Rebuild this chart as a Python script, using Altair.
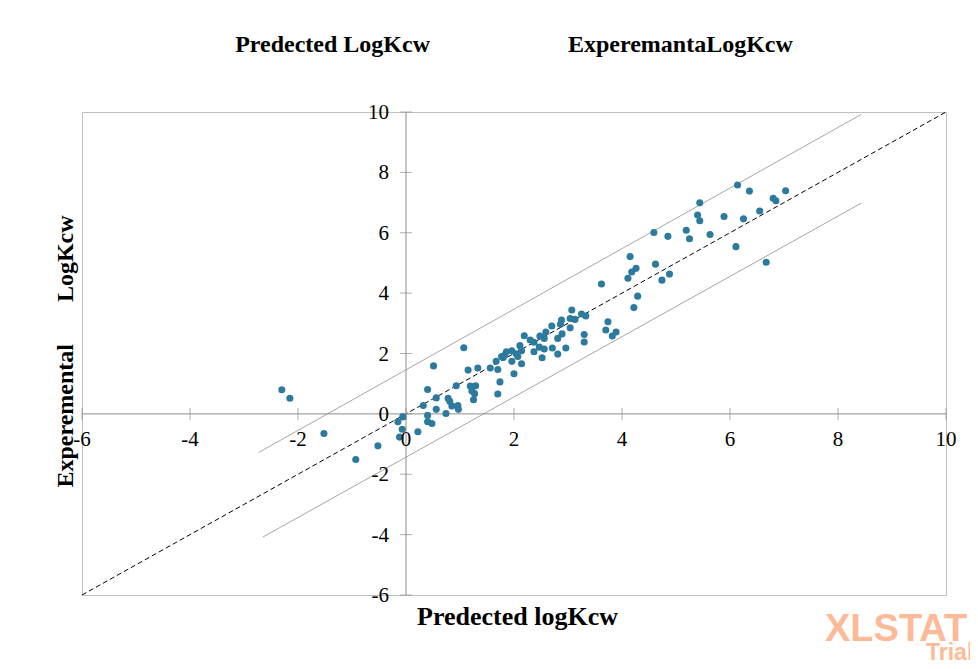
import altair as alt
import pandas as pd

# ---------------- data ----------------
pred = [6.14, 6.36, 6.80, 6.85, 6.55, 6.25, 5.89, 5.44, 5.40, 5.44,
        5.19, 5.25, 5.63, 6.11, 6.67, 4.59, 4.85, 4.15, 4.62, 4.88,
        4.74, 4.26, 4.18, 4.11, 4.29, 4.22, 3.62, 3.25, 3.33, 7.03,
        3.74, 3.70, 3.89, 3.82, 3.30, 3.30, 3.07, 3.04, 3.13, 2.88,
        2.86, 3.04, 2.89, 2.81, 2.70, 2.81, 2.96, 2.71, 2.59, 2.48,
        2.56, 2.47, 2.56, 2.52, 2.37, 2.30, 2.37, 2.19, 2.14, 2.11,
        2.14, 2.04, 2.07, 1.96, 1.96, 2.00, 1.86, 1.83, 1.80, 1.77,
        1.67, 1.70, 1.74, 1.70, 1.56, 1.33, 1.15, 1.07, 1.19, 1.29,
        1.22, 1.27, 1.25, 0.93, 0.78, 0.81, 0.85, 0.96, 0.97, 0.74,
        0.56, 0.56, 0.51, 0.40, 0.32, 0.40, 0.40, 0.48, 0.22, -0.06,
        -0.15, -0.07, -0.12, -2.30, -2.15, -1.52, -0.52, -0.93]
expv = [7.58, 7.38, 7.14, 7.06, 6.72, 6.46, 6.54, 6.99, 6.59, 6.40,
        6.08, 5.80, 5.94, 5.54, 5.02, 6.01, 5.88, 5.21, 4.96, 4.63,
        4.43, 4.82, 4.70, 4.49, 3.90, 3.52, 4.30, 3.31, 3.24, 7.39,
        3.05, 2.78, 2.71, 2.58, 2.63, 2.38, 3.44, 3.16, 3.13, 3.11,
        2.97, 2.85, 2.65, 2.50, 2.91, 1.98, 2.18, 2.18, 2.71, 2.58,
        2.50, 2.21, 2.15, 1.86, 2.06, 2.45, 2.37, 2.59, 1.66, 2.26,
        2.09, 1.99, 1.90, 2.09, 1.74, 1.33, 2.06, 1.95, 1.87, 1.90,
        1.74, 1.47, 1.06, 0.66, 1.52, 1.52, 1.45, 2.19, 0.92, 0.93,
        0.76, 0.67, 0.47, 0.93, 0.52, 0.42, 0.26, 0.28, 0.15, 0.01,
        0.53, 0.15, 1.59, 0.81, 0.28, -0.05, -0.26, -0.32, -0.59, -0.10,
        -0.26, -0.51, -0.77, 0.80, 0.52, -0.65, -1.06, -1.51]

tick_vals = [-6, -4, -2, 0, 2, 4, 6, 8, 10]
tick_labels = ["-6", "-4", "-2", "0", "2", "4", "6", "8", "10"]

diag_x = [-6, 10]
diag_y = [-6, 10]
upper_x = [-2.73, 8.43]
upper_y = [-1.28, 9.92]
lower_x = [-2.65, 8.43]
lower_y = [-4.08, 6.98]

top_left_text = "Predected LogKcw"
top_right_text = "ExperemantaLogKcw"
x_title = "Predected logKcw"
y_title = "Experemental" + "\u00a0" * 7 + "LogKcw"

# ---------------- styling ----------------
FONT = "Liberation Serif"
AXIS_GRAY = "#8C8C8C"
BAND_GRAY = "#A6A6A6"
POINT_COLOR = "#2C7A9E"

xscale = alt.Scale(domain=[-6, 10], nice=False, zero=False)
yscale = alt.Scale(domain=[-6, 10], nice=False, zero=False)

X = alt.X("x:Q", scale=xscale,
          axis=alt.Axis(title=x_title, labels=False, ticks=False, domain=False,
                        grid=False, titleFont=FONT, titleFontSize=26,
                        titleFontWeight="bold", titleColor="black",
                        titleX=435, titleY=21, titleAlign="center",
                        titleBaseline="middle"))
Y = alt.Y("y:Q", scale=yscale,
          axis=alt.Axis(title=y_title, labels=False, ticks=False, domain=False,
                        grid=False, titleFont=FONT, titleFontSize=24,
                        titleFontWeight="bold", titleColor="black",
                        titleX=-17, titleY=239, titleAlign="center",
                        titleBaseline="middle", titleAngle=270))

pts = pd.DataFrame({"x": pred, "y": expv})

lines_df = pd.DataFrame({
    "x": upper_x + lower_x,
    "y": upper_y + lower_y,
    "grp": ["upper"] * len(upper_x) + ["lower"] * len(lower_x),
})
diag_df = pd.DataFrame({"x": diag_x, "y": diag_y})

axes_df = pd.DataFrame({"x": [tick_vals[0], 0], "x2": [tick_vals[-1], 0],
                        "y": [0, tick_vals[0]], "y2": [0, tick_vals[-1]]})

xt_df = pd.DataFrame({"x": tick_vals, "y": [0] * len(tick_vals), "lab": tick_labels})
yt_df = pd.DataFrame({"x": [0] * len(tick_vals), "y": tick_vals, "lab": tick_labels})

bands = alt.Chart(lines_df).mark_line(color=BAND_GRAY, strokeWidth=1).encode(
    x=X, y=Y, detail="grp:N")
diag = alt.Chart(diag_df).mark_line(color="black", strokeWidth=1,
                                    strokeDash=[5, 3]).encode(x=X, y=Y)
axes = alt.Chart(axes_df).mark_rule(color=AXIS_GRAY, strokeWidth=1).encode(
    x=X, x2="x2:Q", y=Y, y2="y2:Q")
xticks = alt.Chart(xt_df).mark_tick(orient="vertical", size=12, thickness=1,
                                    color=AXIS_GRAY).encode(x=X, y=Y)
yticks = alt.Chart(yt_df).mark_tick(orient="horizontal", size=12, thickness=1,
                                    color=AXIS_GRAY).encode(x=X, y=Y)
xlabels = alt.Chart(xt_df).mark_text(font=FONT, fontSize=21, color="black",
                                     dy=26, align="center",
                                     baseline="middle").encode(x=X, y=Y, text="lab:N")
ylabels = alt.Chart(yt_df).mark_text(font=FONT, fontSize=21, color="black",
                                     dx=-17, dy=1, align="right",
                                     baseline="middle").encode(x=X, y=Y, text="lab:N")
points = alt.Chart(pts).mark_circle(size=50, color=POINT_COLOR, opacity=1).encode(
    x=X, y=Y)

wm1 = alt.Chart(pd.DataFrame({"t": ["XLSTAT"]})).mark_text(
    font="Liberation Sans", fontWeight="bold", fontSize=38, color="#FDBA98",
    align="left", baseline="alphabetic").encode(
    x=alt.value(743), y=alt.value(529), text="t:N")
wm2 = alt.Chart(pd.DataFrame({"t": ["Trial"]})).mark_text(
    font="Liberation Sans", fontWeight="bold", fontSize=23, color="#FDBA98",
    align="left", baseline="alphabetic").encode(
    x=alt.value(844), y=alt.value(548), text="t:N")

title_text = top_left_text + "\u00a0" * 23 + top_right_text

chart = alt.layer(
    bands, diag, axes, xticks, yticks, points, xlabels, ylabels, wm1, wm2
).properties(
    width=864, height=483,
    autosize=alt.AutoSizeParams(type="none"),
    padding={"left": 74, "top": 104, "right": 24, "bottom": 66},
    title=alt.TitleParams(text=title_text, font=FONT, fontSize=24,
                          fontWeight="bold", color="black", anchor="middle",
                          frame="group", offset=26, baseline="alphabetic"),
).configure_view(stroke="#BFBFBF", strokeWidth=1)

chart.save("out.html", embed_options={"renderer": "svg", "actions": False})
